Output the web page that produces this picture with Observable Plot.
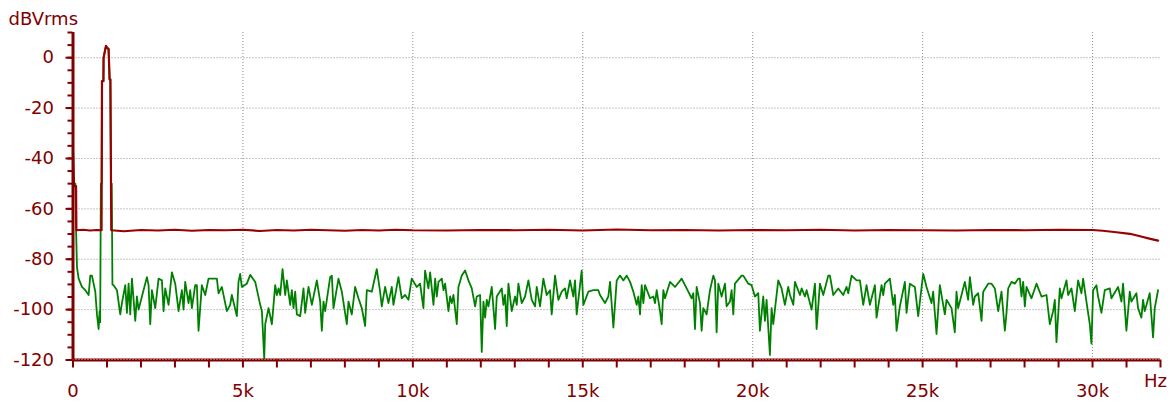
<!DOCTYPE html>
<html><head><meta charset="utf-8">
<script src="https://cdn.jsdelivr.net/npm/d3@7"></script>
<script src="https://cdn.jsdelivr.net/npm/@observablehq/plot@0.6"></script>
<style>html,body{margin:0;padding:0;background:#fff;}</style>
</head><body><div id="chart"></div>
<script>
// Axis ticks (frequency in kHz, level in dBVrms)
const xTicks = d3.range(0, 33, 1);
const xLabelTicks = [0, 5, 10, 15, 20, 25, 30];
const yTicks = d3.range(-120, 11, 5);
const yLabelTicks = [-120, -100, -80, -60, -40, -20, 0];
const xGrid = [5, 10, 15, 20, 25, 30];
const yGrid = [-100, -80, -60, -40, -20, 0];

// Red trace (fundamental channel)
const redKHz = [0, 0.03, 0.09, 0.10, 0.3, 0.5, 0.7, 0.84, 0.853, 0.895, 0.90, 0.97, 1.0, 1.047, 1.077, 1.10, 1.126,
  1.5, 2, 2.5, 3, 3.5, 4, 4.5, 5, 5.5, 6, 6.5, 7, 7.5, 8, 8.5, 9, 9.5, 10, 11, 12, 13, 14, 15, 16, 17, 18, 19, 20,
  21, 22, 23, 24, 25, 26, 27, 28, 29, 30, 30.3, 30.7, 31.1, 31.4, 31.7, 31.93];
const redDb = [-37, -51, -51, -68.5, -68.3, -68.6, -68.4, -68.5, -9.3, -9.3, 0, 4.7, 4.0, 3.4, -8.6, -8.6, -68.5,
  -68.9, -68.4, -68.6, -68.3, -68.7, -68.4, -68.5, -68.3, -68.8, -68.4, -68.6, -68.3, -68.5, -68.7, -68.4, -68.6, -68.3, -68.5, -68.6, -68.4, -68.5, -68.3, -68.6, -68.2, -68.5, -68.4, -68.6, -68.4,
  -68.5, -68.3, -68.6, -68.4, -68.5, -68.6, -68.4, -68.5, -68.3, -68.4, -68.7, -69.3, -69.9, -70.9, -71.9, -72.6];

// Green trace (residual / other channel); around 1 kHz it runs under the red peak
const greenKHz = [0, 0.07, 0.09, 0.117, 0.166, 0.264, 0.362, 0.46, 0.509, 0.558, 0.656, 0.705, 0.754, 0.783, 0.80, 0.82, 0.844,
  0.853, 0.895, 0.90, 0.97, 1.0, 1.047, 1.077, 1.10, 1.118, 1.14, 1.16,
  1.195, 1.293, 1.391, 1.44, 1.538, 1.587, 1.636, 1.685, 1.734, 1.832, 1.881, 1.93, 2.028, 2.175, 2.224, 2.273, 2.322, 2.42,
  2.518, 2.616, 2.665, 2.714, 2.812, 2.91, 3.008, 3.106, 3.204, 3.253, 3.302, 3.4, 3.449, 3.498, 3.596, 3.645, 3.694, 3.792,
  3.89, 3.988, 4.233, 4.282, 4.38, 4.527, 4.625, 4.674, 4.821, 4.87, 4.919, 4.968, 5.115,
  5.215, 5.362, 5.509, 5.558, 5.627, 5.656, 5.754, 5.852, 5.95, 5.999, 6.048, 6.097, 6.166, 6.244, 6.293, 6.391, 6.44, 6.489,
  6.538, 6.587, 6.685, 6.783, 6.832, 6.93, 7.028, 7.175, 7.273, 7.322, 7.371, 7.42, 7.567, 7.616, 7.665, 7.812, 7.91, 8.057,
  8.106, 8.204, 8.302, 8.4, 8.498, 8.596, 8.645, 8.792, 8.939, 9.037, 9.086, 9.184, 9.282, 9.38, 9.429, 9.576, 9.674, 9.772,
  9.87, 9.968, 10.115, 10.213, 10.311, 10.36, 10.458,
  10.509, 10.607, 10.656, 10.705, 10.754, 10.852, 10.901, 10.95, 11.048, 11.097, 11.146, 11.195, 11.293, 11.342, 11.44, 11.538,
  11.636, 11.734, 11.832, 11.881, 11.979, 12.028, 12.077, 12.126, 12.175, 12.224, 12.322, 12.42, 12.469, 12.616, 12.665, 12.714,
  12.763, 12.812, 12.91, 13.008, 13.057, 13.106, 13.204, 13.302, 13.4, 13.498, 13.596, 13.645, 13.743, 13.841, 13.939, 14.037,
  14.086, 14.184, 14.282, 14.38, 14.478, 14.527, 14.625, 14.723, 14.772, 14.821, 14.968, 15.017, 15.164, 15.311, 15.458, 15.507,
  15.654, 15.752,
  15.803, 15.901, 15.999, 16.097, 16.195, 16.293, 16.391, 16.489, 16.587, 16.636, 16.685, 16.734, 16.783, 16.832, 16.979, 17.077,
  17.126, 17.175, 17.273, 17.322, 17.371, 17.42, 17.567, 17.714, 17.91, 18.057, 18.204, 18.253, 18.302, 18.351, 18.449, 18.498,
  18.547, 18.645, 18.743, 18.841, 18.89, 18.939, 18.988, 19.086, 19.184, 19.233, 19.331, 19.38, 19.429, 19.478, 19.674, 19.723,
  19.87, 19.968, 20.066, 20.164, 20.213, 20.311, 20.36, 20.409, 20.507, 20.556, 20.605, 20.752, 20.85, 20.948, 21.046,
  21.097, 21.195, 21.244, 21.391, 21.44, 21.538, 21.587, 21.734, 21.832, 21.881, 21.979, 22.077, 22.224, 22.273, 22.371, 22.518,
  22.665, 22.763, 22.812, 22.91, 23.057, 23.155, 23.253, 23.351, 23.449, 23.596, 23.645, 23.792, 23.841, 23.89, 24.037, 24.135,
  24.184, 24.233, 24.331, 24.478, 24.527, 24.625, 24.772, 24.87, 25.017, 25.115, 25.262, 25.311, 25.409, 25.507, 25.654, 25.703,
  25.85, 25.948, 25.997, 26.046, 26.242, 26.34,
  26.391, 26.489, 26.538, 26.636, 26.734, 26.783, 26.93, 27.028, 27.126, 27.224, 27.322, 27.42, 27.469, 27.518, 27.616, 27.714,
  27.812, 27.861, 27.91, 27.959, 28.008, 28.057, 28.204, 28.351, 28.498, 28.645, 28.743, 28.841, 28.89, 28.939, 29.037, 29.086,
  29.233, 29.282, 29.38, 29.478, 29.576, 29.674, 29.723, 29.821, 29.919, 29.968, 30.017, 30.115, 30.164, 30.262, 30.36, 30.507,
  30.556, 30.752, 30.85, 30.899, 30.997, 31.095, 31.144, 31.291, 31.34, 31.438, 31.487, 31.536, 31.683, 31.781, 31.83, 31.928];
const greenDb = [-50, -50, -68, -83.2, -87.7, -91, -92.3, -94.2, -86.5, -86.5, -92.9, -101.9, -107.7, -100.6, -105, -50, -50,
  -9.3, -9.3, 0, 4.7, 4.0, 3.4, -8.6, -8.6, -50, -50, -90,
  -90.3, -92.3, -101.9, -97.4, -90.3, -101.3, -89.7, -101.9, -87.7, -104.5, -94.8, -100, -94.8, -87.1, -90.3, -105.8, -92.3, -99.4,
  -87.7, -88.4, -100.6, -91.6, -98.1, -85.2, -89.7, -100.6, -92.3, -100, -89, -97.4, -92.3, -99.4, -90.3, -90.3, -108.4, -90.3,
  -94.2, -87.7, -87.7, -93.5, -91, -100.6, -98.1, -94.2, -102.6, -89, -85.8, -91, -89.7,
  -86.2, -89, -98.1, -100.6, -119.4, -105.8, -99.4, -105.8, -90.3, -94.2, -91.6, -94.2, -83.9, -94.2, -88.4, -98.1, -92.3, -99.4,
  -92.9, -101.9, -102.6, -91.6, -101.3, -91, -98.1, -88.4, -96.8, -108.4, -96.8, -100.6, -87.1, -86.5, -99.4, -87.7, -92.9, -105.8,
  -96.8, -101.9, -91, -95.5, -99.4, -106.5, -92.3, -92.9, -83.9, -92.9, -98.7, -91, -97.4, -91, -98.1, -87.1, -95.5, -94.2,
  -96.1, -87.7, -91, -89.7, -99.4, -84.5, -91.6,
  -85.2, -98.1, -87.7, -94.8, -89, -87.7, -92.3, -89.7, -100.6, -94.8, -97.4, -94.2, -105.8, -91, -86.5, -84.5,
  -88.4, -91.6, -98.7, -94.8, -94.2, -116.8, -96.8, -103.2, -96.1, -98.7, -91, -107.7, -94.8, -91.6, -98.1, -94.2,
  -106.5, -89.7, -100.6, -94.8, -98.1, -89.7, -97.4, -94.8, -88.4, -96.1, -98.7, -91, -98.7, -87.7, -94.2, -92.3,
  -101.9, -86.5, -96.1, -92.9, -91.6, -95.5, -88.4, -94.8, -88.4, -101.9, -84.5, -98.1, -92.9, -92.3, -92.3, -94.2,
  -97.4, -94.8,
  -89, -107.1, -88.4, -86.5, -88.4, -86.5, -89, -92.9, -98.1, -94.8, -101.9, -90.3, -97.4, -90.3, -95.5, -94.8,
  -97.4, -92.3, -100.6, -105.8, -92.3, -95.5, -89, -91, -87.7, -91.6, -95.5, -93.5, -107.7, -91, -97.4, -108.4,
  -99.4, -101.9, -92.3, -86.5, -88.4, -109, -89.7, -94.8, -89.7, -98.7, -96.8, -92.3, -101.9, -89.7, -86.5, -86.5,
  -89.7, -90.3, -94.8, -93.5, -108.4, -94.8, -104.5, -96.1, -118, -99.4, -105.8, -88.4, -91.6, -98.1, -91,
  -94.2, -98.1, -89, -94.2, -91.6, -94.8, -92.3, -100, -89.7, -107.7, -89.7, -94.2, -86.5, -86.5, -94.2, -91.6,
  -94.2, -91, -93.5, -86.5, -88.4, -88.4, -98.1, -90.3, -98.1, -90.3, -103.2, -90.3, -94.2, -89.7, -87.7, -98.1,
  -94.2, -108.4, -98.7, -89, -101.3, -89.7, -91, -102.6, -85.8, -91, -97.4, -92.9, -109.7, -90.3, -101.9, -96.1,
  -99.4, -109, -92.9, -99.4, -89, -96.1,
  -87.1, -98.1, -94.8, -93.5, -104.5, -92.9, -89.7, -89.7, -91.6, -100.6, -92.9, -108.4, -101.3, -91.6, -89, -89.7,
  -87.7, -87.7, -94.8, -89, -98.7, -91, -95.5, -89.7, -94.8, -94.2, -105.8, -100.6, -96.1, -112.9, -91.6, -95.5,
  -88.4, -94.2, -91.6, -100.6, -88.4, -93.5, -87.7, -96.8, -105.8, -113.5, -92.3, -90.3, -94.8, -101.3, -92.3, -91.6,
  -95.5, -91, -96.8, -89.7, -108.4, -92.9, -96.8, -93.5, -99.4, -103.2, -96.1, -100.6, -93.5, -111, -99.4, -92.3];

const red = redKHz.map((f, i) => ({f, db: redDb[i]}));
const green = greenKHz.map((f, i) => ({f, db: greenDb[i]}));

const axisColor = "#800000";
const gridColor = "#8c8c8c";

const chart = Plot.plot({
  width: 1176,
  height: 406,
  marginLeft: 72.5,
  marginRight: 16,
  marginTop: 32,
  marginBottom: 46.5,
  x: {domain: [0, 32], label: null},
  y: {domain: [-120, 10], label: null},
  style: {fontFamily: "DejaVu Sans, sans-serif", fontSize: "18px", color: axisColor, background: "#fff"},
  marks: [
    Plot.gridX(xGrid, {stroke: gridColor, strokeOpacity: 1, strokeDasharray: "1,2"}),
    Plot.gridY(yGrid, {stroke: gridColor, strokeOpacity: 1, strokeDasharray: "1,2"}),
    Plot.line(green, {x: "f", y: "db", stroke: "#008000", strokeWidth: 1.8}),
    Plot.line(red, {x: "f", y: "db", stroke: "#990000", strokeWidth: 2.2}),
    Plot.ruleX([0], {stroke: axisColor, strokeWidth: 3}),
    Plot.ruleY([-120], {stroke: axisColor, strokeWidth: 3}),
    Plot.gridY([-120], {stroke: "#d8b8b8", strokeOpacity: 1, strokeDasharray: "1,2", dy: -0.5}),
    Plot.axisX(xTicks, {tickSize: 8, fill: "none", stroke: axisColor, strokeWidth: 2}),
    Plot.axisX(xLabelTicks, {tickSize: 0, tickPadding: 24, label: null, fill: axisColor,
      tickFormat: d => d === 0 ? "0" : `${d}k`}),
    Plot.axisY(yTicks, {tickSize: 5, fill: "none", stroke: axisColor, strokeWidth: 2}),
    Plot.axisY(yLabelTicks, {tickSize: 7, tickPadding: 12, label: null, fill: axisColor, stroke: axisColor, strokeWidth: 2,
      tickFormat: d => `${d}`}),
    Plot.text(["dBVrms"], {text: d => d, frameAnchor: "top-left", dx: -64.5, dy: -13, textAnchor: "start", lineAnchor: "middle", fill: axisColor}),
    Plot.text(["Hz"], {text: d => d, frameAnchor: "bottom-right", dx: 6.5, dy: 21.5, textAnchor: "end", lineAnchor: "middle", fill: axisColor})
  ]
});
document.getElementById("chart").append(chart);
</script></body></html>
